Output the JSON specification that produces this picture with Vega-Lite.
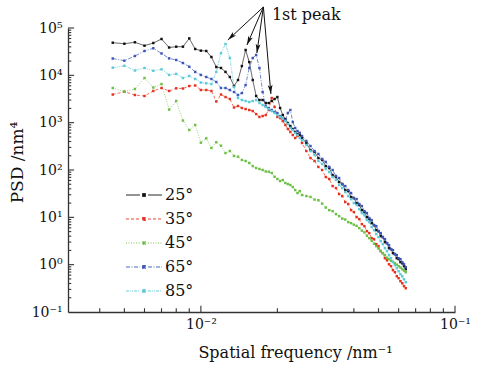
{
"$schema": "https://vega.github.io/schema/vega-lite/v6.json",
"width": 387, "height": 284,
"autosize": "none",
"padding": {"left": 68, "top": 28, "right": 24, "bottom": 57},
"config": {"view": {"stroke": null}, "font": "DejaVu Serif", "text": {"font": "DejaVu Serif"}},
"data": {"values": [
{"a":"25°","f":0.0045,"p":48900},{"a":"25°","f":0.005,"p":46500},{"a":"25°","f":0.0055,"p":49900},{"a":"25°","f":0.006,"p":42300},{"a":"25°","f":0.0065,"p":48200},{"a":"25°","f":0.007,"p":58600},{"a":"25°","f":0.0075,"p":38700},{"a":"25°","f":0.008,"p":40300},{"a":"25°","f":0.0085,"p":40300},{"a":"25°","f":0.009,"p":60300},{"a":"25°","f":0.0095,"p":36000},{"a":"25°","f":0.01,"p":33200},{"a":"25°","f":0.0105,"p":32700},{"a":"25°","f":0.011,"p":24400},{"a":"25°","f":0.0115,"p":15000},{"a":"25°","f":0.012,"p":14300},{"a":"25°","f":0.0125,"p":11800},{"a":"25°","f":0.013,"p":9220},{"a":"25°","f":0.0135,"p":5950},{"a":"25°","f":0.014,"p":7970},{"a":"25°","f":0.0145,"p":15700},{"a":"25°","f":0.015,"p":34300},{"a":"25°","f":0.0155,"p":19100},{"a":"25°","f":0.016,"p":7970},{"a":"25°","f":0.0165,"p":3660},{"a":"25°","f":0.017,"p":3010},{"a":"25°","f":0.0175,"p":3010},{"a":"25°","f":0.018,"p":2600},{"a":"25°","f":0.0185,"p":2600},{"a":"25°","f":0.019,"p":2870},{"a":"25°","f":0.0195,"p":3160},{"a":"25°","f":0.02,"p":3480},{"a":"25°","f":0.0205,"p":2040},{"a":"25°","f":0.021,"p":1450},{"a":"25°","f":0.0215,"p":1190},{"a":"25°","f":0.022,"p":984},{"a":"25°","f":0.0225,"p":850},{"a":"25°","f":0.023,"p":734},{"a":"25°","f":0.0235,"p":635},{"a":"25°","f":0.024,"p":576},{"a":"25°","f":0.0245,"p":548},{"a":"25°","f":0.025,"p":474},{"a":"25°","f":0.026,"p":372},{"a":"25°","f":0.027,"p":264},{"a":"25°","f":0.028,"p":240},{"a":"25°","f":0.029,"p":179},{"a":"25°","f":0.03,"p":163},{"a":"25°","f":0.031,"p":121},{"a":"25°","f":0.032,"p":110},{"a":"25°","f":0.033,"p":78.4},{"a":"25°","f":0.034,"p":71.1},{"a":"25°","f":0.035,"p":55.7},{"a":"25°","f":0.036,"p":50.5},{"a":"25°","f":0.037,"p":37.7},{"a":"25°","f":0.038,"p":35.9},{"a":"25°","f":0.039,"p":26.8},{"a":"25°","f":0.04,"p":25.5},{"a":"25°","f":0.041,"p":20.0},{"a":"25°","f":0.042,"p":18.2},{"a":"25°","f":0.043,"p":14.2},{"a":"25°","f":0.044,"p":12.9},{"a":"25°","f":0.045,"p":10.1},{"a":"25°","f":0.046,"p":9.18},{"a":"25°","f":0.047,"p":7.55},{"a":"25°","f":0.048,"p":6.85},{"a":"25°","f":0.049,"p":5.37},{"a":"25°","f":0.05,"p":5.11},{"a":"25°","f":0.051,"p":4.01},{"a":"25°","f":0.052,"p":3.82},{"a":"25°","f":0.053,"p":2.99},{"a":"25°","f":0.054,"p":2.85},{"a":"25°","f":0.055,"p":2.23},{"a":"25°","f":0.056,"p":2.13},{"a":"25°","f":0.057,"p":1.75},{"a":"25°","f":0.058,"p":1.67},{"a":"25°","f":0.059,"p":1.37},{"a":"25°","f":0.06,"p":1.31},{"a":"25°","f":0.061,"p":1.13},{"a":"25°","f":0.062,"p":1.07},{"a":"25°","f":0.063,"p":0.929},{"a":"25°","f":0.064,"p":0.803},
{"a":"35°","f":0.0045,"p":3930},{"a":"35°","f":0.005,"p":4510},{"a":"35°","f":0.0055,"p":3840},{"a":"35°","f":0.006,"p":3660},{"a":"35°","f":0.0065,"p":4670},{"a":"35°","f":0.007,"p":5400},{"a":"35°","f":0.0075,"p":4670},{"a":"35°","f":0.008,"p":5320},{"a":"35°","f":0.0085,"p":5270},{"a":"35°","f":0.009,"p":5950},{"a":"35°","f":0.0095,"p":6100},{"a":"35°","f":0.01,"p":4900},{"a":"35°","f":0.0105,"p":4900},{"a":"35°","f":0.011,"p":4670},{"a":"35°","f":0.0115,"p":2800},{"a":"35°","f":0.012,"p":3930},{"a":"35°","f":0.0125,"p":3480},{"a":"35°","f":0.013,"p":3160},{"a":"35°","f":0.0135,"p":2090},{"a":"35°","f":0.014,"p":2250},{"a":"35°","f":0.0145,"p":2040},{"a":"35°","f":0.015,"p":1940},{"a":"35°","f":0.0155,"p":1850},{"a":"35°","f":0.016,"p":1760},{"a":"35°","f":0.0165,"p":1520},{"a":"35°","f":0.017,"p":1320},{"a":"35°","f":0.0175,"p":1380},{"a":"35°","f":0.018,"p":1450},{"a":"35°","f":0.0185,"p":1850},{"a":"35°","f":0.019,"p":3320},{"a":"35°","f":0.0195,"p":2140},{"a":"35°","f":0.02,"p":1320},{"a":"35°","f":0.0205,"p":1250},{"a":"35°","f":0.021,"p":1080},{"a":"35°","f":0.0215,"p":893},{"a":"35°","f":0.022,"p":734},{"a":"35°","f":0.0225,"p":635},{"a":"35°","f":0.023,"p":548},{"a":"35°","f":0.0235,"p":474},{"a":"35°","f":0.024,"p":522},{"a":"35°","f":0.0245,"p":605},{"a":"35°","f":0.025,"p":372},{"a":"35°","f":0.026,"p":252},{"a":"35°","f":0.027,"p":179},{"a":"35°","f":0.028,"p":155},{"a":"35°","f":0.029,"p":116},{"a":"35°","f":0.03,"p":100},{"a":"35°","f":0.031,"p":71.1},{"a":"35°","f":0.032,"p":64.5},{"a":"35°","f":0.033,"p":45.8},{"a":"35°","f":0.034,"p":41.6},{"a":"35°","f":0.035,"p":31.0},{"a":"35°","f":0.036,"p":28.2},{"a":"35°","f":0.037,"p":21.0},{"a":"35°","f":0.038,"p":19.1},{"a":"35°","f":0.039,"p":14.2},{"a":"35°","f":0.04,"p":12.9},{"a":"35°","f":0.041,"p":10.1},{"a":"35°","f":0.042,"p":9.18},{"a":"35°","f":0.043,"p":7.19},{"a":"35°","f":0.044,"p":6.52},{"a":"35°","f":0.045,"p":5.11},{"a":"35°","f":0.046,"p":4.64},{"a":"35°","f":0.047,"p":3.63},{"a":"35°","f":0.048,"p":3.46},{"a":"35°","f":0.049,"p":2.71},{"a":"35°","f":0.05,"p":2.46},{"a":"35°","f":0.051,"p":1.93},{"a":"35°","f":0.052,"p":1.75},{"a":"35°","f":0.053,"p":1.37},{"a":"35°","f":0.054,"p":1.24},{"a":"35°","f":0.055,"p":1.02},{"a":"35°","f":0.056,"p":0.929},{"a":"35°","f":0.057,"p":0.765},{"a":"35°","f":0.058,"p":0.694},{"a":"35°","f":0.059,"p":0.571},{"a":"35°","f":0.06,"p":0.518},{"a":"35°","f":0.061,"p":0.448},{"a":"35°","f":0.062,"p":0.406},{"a":"35°","f":0.063,"p":0.351},{"a":"35°","f":0.064,"p":0.318},
{"a":"45°","f":0.0045,"p":5400},{"a":"45°","f":0.005,"p":4510},{"a":"45°","f":0.0055,"p":5140},{"a":"45°","f":0.006,"p":8780},{"a":"45°","f":0.0065,"p":5530},{"a":"45°","f":0.007,"p":6560},{"a":"45°","f":0.0075,"p":1890},{"a":"45°","f":0.008,"p":2870},{"a":"45°","f":0.0085,"p":1110},{"a":"45°","f":0.009,"p":699},{"a":"45°","f":0.0095,"p":893},{"a":"45°","f":0.01,"p":378},{"a":"45°","f":0.0105,"p":467},{"a":"45°","f":0.011,"p":292},{"a":"45°","f":0.0115,"p":386},{"a":"45°","f":0.012,"p":326},{"a":"45°","f":0.0125,"p":228},{"a":"45°","f":0.013,"p":252},{"a":"45°","f":0.0135,"p":198},{"a":"45°","f":0.014,"p":191},{"a":"45°","f":0.0145,"p":163},{"a":"45°","f":0.015,"p":155},{"a":"45°","f":0.0155,"p":141},{"a":"45°","f":0.016,"p":121},{"a":"45°","f":0.0165,"p":110},{"a":"45°","f":0.017,"p":105},{"a":"45°","f":0.0175,"p":100},{"a":"45°","f":0.018,"p":93},{"a":"45°","f":0.0185,"p":92},{"a":"45°","f":0.019,"p":86.4},{"a":"45°","f":0.0195,"p":72},{"a":"45°","f":0.02,"p":64.5},{"a":"45°","f":0.0205,"p":58.5},{"a":"45°","f":0.021,"p":61.4},{"a":"45°","f":0.0215,"p":53.1},{"a":"45°","f":0.022,"p":50.5},{"a":"45°","f":0.0225,"p":48.1},{"a":"45°","f":0.023,"p":43.7},{"a":"45°","f":0.0235,"p":37.7},{"a":"45°","f":0.024,"p":32.6},{"a":"45°","f":0.0245,"p":35.9},{"a":"45°","f":0.025,"p":29.6},{"a":"45°","f":0.026,"p":28.2},{"a":"45°","f":0.027,"p":27.0},{"a":"45°","f":0.028,"p":23.7},{"a":"45°","f":0.029,"p":23.0},{"a":"45°","f":0.03,"p":19.5},{"a":"45°","f":0.031,"p":16.1},{"a":"45°","f":0.032,"p":14.2},{"a":"45°","f":0.033,"p":13.5},{"a":"45°","f":0.034,"p":11.7},{"a":"45°","f":0.035,"p":10.6},{"a":"45°","f":0.036,"p":9.4},{"a":"45°","f":0.037,"p":9.0},{"a":"45°","f":0.038,"p":7.93},{"a":"45°","f":0.039,"p":7.55},{"a":"45°","f":0.04,"p":7.0},{"a":"45°","f":0.041,"p":6.6},{"a":"45°","f":0.042,"p":5.92},{"a":"45°","f":0.043,"p":5.24},{"a":"45°","f":0.044,"p":4.8},{"a":"45°","f":0.045,"p":4.11},{"a":"45°","f":0.046,"p":3.63},{"a":"45°","f":0.047,"p":3.2},{"a":"45°","f":0.048,"p":2.78},{"a":"45°","f":0.049,"p":2.46},{"a":"45°","f":0.05,"p":2.18},{"a":"45°","f":0.051,"p":1.96},{"a":"45°","f":0.052,"p":1.75},{"a":"45°","f":0.053,"p":1.6},{"a":"45°","f":0.054,"p":1.40},{"a":"45°","f":0.055,"p":1.31},{"a":"45°","f":0.056,"p":1.21},{"a":"45°","f":0.057,"p":1.15},{"a":"45°","f":0.058,"p":1.07},{"a":"45°","f":0.059,"p":1.0},{"a":"45°","f":0.06,"p":0.929},{"a":"45°","f":0.061,"p":0.87},{"a":"45°","f":0.062,"p":0.803},{"a":"45°","f":0.063,"p":0.75},{"a":"45°","f":0.064,"p":0.694},
{"a":"65°","f":0.0045,"p":22650},{"a":"65°","f":0.005,"p":20400},{"a":"65°","f":0.0055,"p":25600},{"a":"65°","f":0.006,"p":32700},{"a":"65°","f":0.0065,"p":37300},{"a":"65°","f":0.007,"p":29000},{"a":"65°","f":0.0075,"p":22800},{"a":"65°","f":0.008,"p":21100},{"a":"65°","f":0.0085,"p":18200},{"a":"65°","f":0.009,"p":15200},{"a":"65°","f":0.0095,"p":11800},{"a":"65°","f":0.01,"p":10200},{"a":"65°","f":0.0105,"p":9220},{"a":"65°","f":0.011,"p":8370},{"a":"65°","f":0.0115,"p":7230},{"a":"65°","f":0.012,"p":5400},{"a":"65°","f":0.0125,"p":5400},{"a":"65°","f":0.013,"p":4900},{"a":"65°","f":0.0135,"p":4440},{"a":"65°","f":0.014,"p":3840},{"a":"65°","f":0.0145,"p":4230},{"a":"65°","f":0.015,"p":6250},{"a":"65°","f":0.0155,"p":14300},{"a":"65°","f":0.016,"p":23200},{"a":"65°","f":0.0165,"p":26900},{"a":"65°","f":0.017,"p":14300},{"a":"65°","f":0.0175,"p":4440},{"a":"65°","f":0.018,"p":2250},{"a":"65°","f":0.0185,"p":2040},{"a":"65°","f":0.019,"p":1850},{"a":"65°","f":0.0195,"p":1680},{"a":"65°","f":0.02,"p":1600},{"a":"65°","f":0.0205,"p":1380},{"a":"65°","f":0.021,"p":1250},{"a":"65°","f":0.0215,"p":1140},{"a":"65°","f":0.022,"p":1600},{"a":"65°","f":0.0225,"p":1850},{"a":"65°","f":0.023,"p":1030},{"a":"65°","f":0.0235,"p":771},{"a":"65°","f":0.024,"p":666},{"a":"65°","f":0.0245,"p":605},{"a":"65°","f":0.025,"p":522},{"a":"65°","f":0.026,"p":410},{"a":"65°","f":0.027,"p":321},{"a":"65°","f":0.028,"p":252},{"a":"65°","f":0.029,"p":218},{"a":"65°","f":0.03,"p":171},{"a":"65°","f":0.031,"p":148},{"a":"65°","f":0.032,"p":116},{"a":"65°","f":0.033,"p":100},{"a":"65°","f":0.034,"p":74.7},{"a":"65°","f":0.035,"p":67.7},{"a":"65°","f":0.036,"p":50.5},{"a":"65°","f":0.037,"p":45.8},{"a":"65°","f":0.038,"p":37.7},{"a":"65°","f":0.039,"p":32.6},{"a":"65°","f":0.04,"p":25.5},{"a":"65°","f":0.041,"p":24.3},{"a":"65°","f":0.042,"p":19.1},{"a":"65°","f":0.043,"p":17.3},{"a":"65°","f":0.044,"p":13.5},{"a":"65°","f":0.045,"p":12.3},{"a":"65°","f":0.046,"p":9.64},{"a":"65°","f":0.047,"p":8.74},{"a":"65°","f":0.048,"p":6.85},{"a":"65°","f":0.049,"p":6.52},{"a":"65°","f":0.05,"p":5.11},{"a":"65°","f":0.051,"p":4.64},{"a":"65°","f":0.052,"p":3.82},{"a":"65°","f":0.053,"p":3.46},{"a":"65°","f":0.054,"p":2.85},{"a":"65°","f":0.055,"p":2.58},{"a":"65°","f":0.056,"p":2.13},{"a":"65°","f":0.057,"p":2.03},{"a":"65°","f":0.058,"p":1.67},{"a":"65°","f":0.059,"p":1.59},{"a":"65°","f":0.06,"p":1.37},{"a":"65°","f":0.061,"p":1.31},{"a":"65°","f":0.062,"p":1.13},{"a":"65°","f":0.063,"p":1.02},{"a":"65°","f":0.064,"p":0.885},
{"a":"85°","f":0.0045,"p":14500},{"a":"85°","f":0.005,"p":15900},{"a":"85°","f":0.0055,"p":12650},{"a":"85°","f":0.006,"p":14300},{"a":"85°","f":0.0065,"p":12500},{"a":"85°","f":0.007,"p":13400},{"a":"85°","f":0.0075,"p":10200},{"a":"85°","f":0.008,"p":10700},{"a":"85°","f":0.0085,"p":8780},{"a":"85°","f":0.009,"p":9680},{"a":"85°","f":0.0095,"p":8370},{"a":"85°","f":0.01,"p":7050},{"a":"85°","f":0.0105,"p":6800},{"a":"85°","f":0.011,"p":6560},{"a":"85°","f":0.0115,"p":11800},{"a":"85°","f":0.012,"p":29500},{"a":"85°","f":0.0125,"p":45900},{"a":"85°","f":0.013,"p":23200},{"a":"85°","f":0.0135,"p":5670},{"a":"85°","f":0.014,"p":3320},{"a":"85°","f":0.0145,"p":3010},{"a":"85°","f":0.015,"p":2870},{"a":"85°","f":0.0155,"p":2730},{"a":"85°","f":0.016,"p":2870},{"a":"85°","f":0.0165,"p":3010},{"a":"85°","f":0.017,"p":2600},{"a":"85°","f":0.0175,"p":2360},{"a":"85°","f":0.018,"p":2140},{"a":"85°","f":0.0185,"p":1940},{"a":"85°","f":0.019,"p":1760},{"a":"85°","f":0.0195,"p":1600},{"a":"85°","f":0.02,"p":1450},{"a":"85°","f":0.0205,"p":1320},{"a":"85°","f":0.021,"p":1250},{"a":"85°","f":0.0215,"p":1080},{"a":"85°","f":0.022,"p":937},{"a":"85°","f":0.0225,"p":771},{"a":"85°","f":0.023,"p":699},{"a":"85°","f":0.0235,"p":605},{"a":"85°","f":0.024,"p":548},{"a":"85°","f":0.0245,"p":474},{"a":"85°","f":0.025,"p":430},{"a":"85°","f":0.026,"p":337},{"a":"85°","f":0.027,"p":252},{"a":"85°","f":0.028,"p":207},{"a":"85°","f":0.029,"p":155},{"a":"85°","f":0.03,"p":134},{"a":"85°","f":0.031,"p":105},{"a":"85°","f":0.032,"p":90.7},{"a":"85°","f":0.033,"p":71.1},{"a":"85°","f":0.034,"p":61.4},{"a":"85°","f":0.035,"p":48.1},{"a":"85°","f":0.036,"p":41.6},{"a":"85°","f":0.037,"p":34.2},{"a":"85°","f":0.038,"p":28.2},{"a":"85°","f":0.039,"p":24.3},{"a":"85°","f":0.04,"p":20.0},{"a":"85°","f":0.041,"p":18.2},{"a":"85°","f":0.042,"p":14.9},{"a":"85°","f":0.043,"p":12.3},{"a":"85°","f":0.044,"p":11.1},{"a":"85°","f":0.045,"p":8.74},{"a":"85°","f":0.046,"p":7.93},{"a":"85°","f":0.047,"p":6.21},{"a":"85°","f":0.048,"p":5.37},{"a":"85°","f":0.049,"p":4.42},{"a":"85°","f":0.05,"p":3.82},{"a":"85°","f":0.051,"p":3.14},{"a":"85°","f":0.052,"p":2.71},{"a":"85°","f":0.053,"p":2.23},{"a":"85°","f":0.054,"p":1.93},{"a":"85°","f":0.055,"p":1.59},{"a":"85°","f":0.056,"p":1.37},{"a":"85°","f":0.057,"p":1.13},{"a":"85°","f":0.058,"p":0.975},{"a":"85°","f":0.059,"p":0.843},{"a":"85°","f":0.06,"p":0.728},{"a":"85°","f":0.061,"p":0.629},{"a":"85°","f":0.062,"p":0.571},{"a":"85°","f":0.063,"p":0.493},{"a":"85°","f":0.064,"p":0.426}
]},
"layer": [
{
"mark": {"type": "line", "strokeWidth": 0.7},
"encoding": {
"x": {"field": "f", "type": "quantitative", "scale": {"type": "log", "domain": [0.003, 0.1], "nice": false},
 "axis": {"title": "Spatial frequency /nm⁻¹", "values": [0.01,0.1],
  "labelExpr": "datum.value == 0.01 ? '10⁻²' : '10⁻¹'",
  "ticks": false, "tickSize": 0, "labelPadding": 5, "labelFlush": false, "labelOverlap": false, "grid": false,
  "labelFont": "DejaVu Serif", "labelFontSize": 14, "labelColor": "#111",
  "titleFont": "DejaVu Serif", "titleFontSize": 16, "titleFontWeight": "normal", "titleColor": "#111",
  "titleX": 227, "titleY": 32, "titleBaseline": "top", "titleAlign": "center",
  "domainColor": "#333", "domainWidth": 1.3}},
"y": {"field": "p", "type": "quantitative", "scale": {"type": "log", "domain": [0.1, 100000], "nice": false},
 "axis": {"title": "PSD /nm⁴", "values": [0.1,1,10,100,1000,10000,100000],
  "labelExpr": "datum.value == 100000 ? '10⁵' : datum.value == 10000 ? '10⁴' : datum.value == 1000 ? '10³' : datum.value == 100 ? '10²' : datum.value == 10 ? '10¹' : datum.value == 1 ? '10⁰' : '10⁻¹'",
  "ticks": false, "tickSize": 0, "labelPadding": 6, "labelFlush": false, "labelOverlap": false, "grid": false,
  "labelFont": "DejaVu Serif", "labelFontSize": 14, "labelColor": "#111",
  "titleFont": "DejaVu Serif", "titleFontSize": 17, "titleFontWeight": "normal", "titleColor": "#111",
  "titleX": -42, "titleY": 134, "titleBaseline": "bottom", "titleAlign": "center", "titleAngle": 270,
  "domainColor": "#333", "domainWidth": 1.3}},
"color": {"field": "a", "type": "nominal",
 "scale": {"domain": ["25°","35°","45°","65°","85°"], "range": ["#111111","#e8301e","#6cbf44","#3b56b8","#5ccad8"]},
 "legend": {"title": null, "orient": "none", "legendX": 68, "legendY": 159, "padding": 0,
  "symbolType": "M-18,0H-4M4,0H18M-1.5,-1.5H1.5V1.5H-1.5Z", "symbolSize": 4, "symbolStrokeWidth": 0.9,
  "labelFont": "DejaVu Serif", "labelFontSize": 16, "labelColor": "#111", "labelOffset": 13, "rowPadding": 8}},
"strokeDash": {"field": "a", "type": "nominal",
 "scale": {"domain": ["25°","35°","45°","65°","85°"], "range": [[1,0],[3,2],[1,1.5],[4,1.5,1,1.5],[3,1,1,1,1,1]]},
 "legend": {"title": null, "orient": "none", "legendX": 68, "legendY": 159, "padding": 0,
  "symbolType": "M-18,0H-4M4,0H18M-1.5,-1.5H1.5V1.5H-1.5Z", "symbolSize": 4, "symbolStrokeWidth": 0.9,
  "labelFont": "DejaVu Serif", "labelFontSize": 16, "labelColor": "#111", "labelOffset": 13, "rowPadding": 8}}
}
},
{
"mark": {"type": "point", "shape": "square", "filled": true, "size": 6, "opacity": 1, "strokeWidth": 0},
"encoding": {
"x": {"field": "f", "type": "quantitative"},
"y": {"field": "p", "type": "quantitative"},
"color": {"field": "a", "type": "nominal"}
}
},
{
"data": {"values": [
{"f":0.004,"p":0.1,"f2":0.004,"p2":0.12},{"f":0.005,"p":0.1,"f2":0.005,"p2":0.12},{"f":0.006,"p":0.1,"f2":0.006,"p2":0.12},{"f":0.007,"p":0.1,"f2":0.007,"p2":0.12},{"f":0.008,"p":0.1,"f2":0.008,"p2":0.12},{"f":0.009,"p":0.1,"f2":0.009,"p2":0.12},
{"f":0.01,"p":0.1,"f2":0.01,"p2":0.135},
{"f":0.02,"p":0.1,"f2":0.02,"p2":0.12},{"f":0.03,"p":0.1,"f2":0.03,"p2":0.12},{"f":0.04,"p":0.1,"f2":0.04,"p2":0.12},{"f":0.05,"p":0.1,"f2":0.05,"p2":0.12},{"f":0.06,"p":0.1,"f2":0.06,"p2":0.12},{"f":0.07,"p":0.1,"f2":0.07,"p2":0.12},{"f":0.08,"p":0.1,"f2":0.08,"p2":0.12},{"f":0.09,"p":0.1,"f2":0.09,"p2":0.12},
{"f":0.1,"p":0.1,"f2":0.1,"p2":0.135},
{"f":0.003,"p":0.2,"f2":0.00309,"p2":0.2},{"f":0.003,"p":0.3,"f2":0.00309,"p2":0.3},{"f":0.003,"p":0.4,"f2":0.00309,"p2":0.4},{"f":0.003,"p":0.5,"f2":0.00309,"p2":0.5},{"f":0.003,"p":0.6,"f2":0.00309,"p2":0.6},{"f":0.003,"p":0.7,"f2":0.00309,"p2":0.7},{"f":0.003,"p":0.8,"f2":0.00309,"p2":0.8},{"f":0.003,"p":0.9,"f2":0.00309,"p2":0.9},
{"f":0.003,"p":1,"f2":0.00317,"p2":1},
{"f":0.003,"p":2,"f2":0.00309,"p2":2},{"f":0.003,"p":3,"f2":0.00309,"p2":3},{"f":0.003,"p":4,"f2":0.00309,"p2":4},{"f":0.003,"p":5,"f2":0.00309,"p2":5},{"f":0.003,"p":6,"f2":0.00309,"p2":6},{"f":0.003,"p":7,"f2":0.00309,"p2":7},{"f":0.003,"p":8,"f2":0.00309,"p2":8},{"f":0.003,"p":9,"f2":0.00309,"p2":9},
{"f":0.003,"p":10,"f2":0.00317,"p2":10},
{"f":0.003,"p":20,"f2":0.00309,"p2":20},{"f":0.003,"p":30,"f2":0.00309,"p2":30},{"f":0.003,"p":40,"f2":0.00309,"p2":40},{"f":0.003,"p":50,"f2":0.00309,"p2":50},{"f":0.003,"p":60,"f2":0.00309,"p2":60},{"f":0.003,"p":70,"f2":0.00309,"p2":70},{"f":0.003,"p":80,"f2":0.00309,"p2":80},{"f":0.003,"p":90,"f2":0.00309,"p2":90},
{"f":0.003,"p":100,"f2":0.00317,"p2":100},
{"f":0.003,"p":200,"f2":0.00309,"p2":200},{"f":0.003,"p":300,"f2":0.00309,"p2":300},{"f":0.003,"p":400,"f2":0.00309,"p2":400},{"f":0.003,"p":500,"f2":0.00309,"p2":500},{"f":0.003,"p":600,"f2":0.00309,"p2":600},{"f":0.003,"p":700,"f2":0.00309,"p2":700},{"f":0.003,"p":800,"f2":0.00309,"p2":800},{"f":0.003,"p":900,"f2":0.00309,"p2":900},
{"f":0.003,"p":1000,"f2":0.00317,"p2":1000},
{"f":0.003,"p":2000,"f2":0.00309,"p2":2000},{"f":0.003,"p":3000,"f2":0.00309,"p2":3000},{"f":0.003,"p":4000,"f2":0.00309,"p2":4000},{"f":0.003,"p":5000,"f2":0.00309,"p2":5000},{"f":0.003,"p":6000,"f2":0.00309,"p2":6000},{"f":0.003,"p":7000,"f2":0.00309,"p2":7000},{"f":0.003,"p":8000,"f2":0.00309,"p2":8000},{"f":0.003,"p":9000,"f2":0.00309,"p2":9000},
{"f":0.003,"p":10000,"f2":0.00317,"p2":10000},
{"f":0.003,"p":20000,"f2":0.00309,"p2":20000},{"f":0.003,"p":30000,"f2":0.00309,"p2":30000},{"f":0.003,"p":40000,"f2":0.00309,"p2":40000},{"f":0.003,"p":50000,"f2":0.00309,"p2":50000},{"f":0.003,"p":60000,"f2":0.00309,"p2":60000},{"f":0.003,"p":70000,"f2":0.00309,"p2":70000},{"f":0.003,"p":80000,"f2":0.00309,"p2":80000},{"f":0.003,"p":90000,"f2":0.00309,"p2":90000},
{"f":0.003,"p":100000,"f2":0.00317,"p2":100000}
]},
"mark": {"type": "rule", "strokeWidth": 1.1, "color": "#333"},
"encoding": {"x": {"field": "f", "type": "quantitative"}, "y": {"field": "p", "type": "quantitative"}, "x2": {"field": "f2"}, "y2": {"field": "p2"}}
},
{
"data": {"values": [
{"id":1,"f":0.01277,"p":55800,"f2":0.01762,"p2":277800},
{"id":2,"f":0.01518,"p":43700,"f2":0.01762,"p2":277800},
{"id":3,"f":0.01661,"p":29600,"f2":0.01762,"p2":277800},
{"id":4,"f":0.01886,"p":4030,"f2":0.01762,"p2":277800}
]},
"layer": [
{"mark": {"type": "rule", "strokeWidth": 1, "color": "#111"},
 "encoding": {"x": {"field": "f", "type": "quantitative"}, "y": {"field": "p", "type": "quantitative"}, "x2": {"field": "f2"}, "y2": {"field": "p2"}}},
{"mark": {"type": "point", "shape": "M0,0L-2.4,9L0,7L2.4,9Z", "filled": true, "size": 4, "color": "#111", "opacity": 1, "strokeWidth": 0},
 "encoding": {"x": {"field": "f", "type": "quantitative"}, "y": {"field": "p", "type": "quantitative"},
  "angle": {"field": "id", "type": "quantitative", "scale": {"domain": [1,2,3,4], "range": [227,203.5,188,175]}}}}
]
},
{
"data": {"values": [{"f": 0.01903, "p": 188000, "t": "1st peak"}]},
"mark": {"type": "text", "align": "left", "baseline": "middle", "font": "DejaVu Serif", "fontSize": 16, "color": "#111"},
"encoding": {"x": {"field": "f", "type": "quantitative"}, "y": {"field": "p", "type": "quantitative"}, "text": {"field": "t"}}
}
]
}
